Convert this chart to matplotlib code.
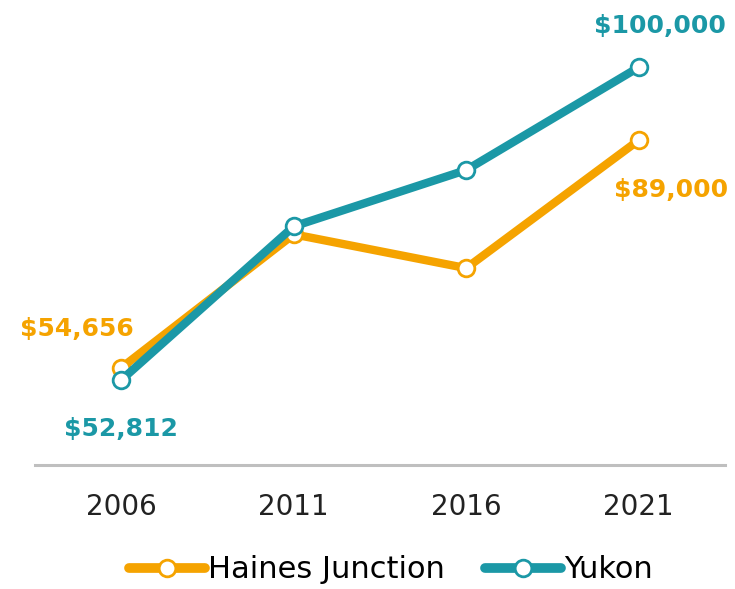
import matplotlib.pyplot as plt

years = ["2006", "2011", "2016", "2021"]
haines = [54656, 74800, 69700, 89000]
yukon = [52812, 76000, 84500, 100000]

orange = "#F5A300"
teal = "#1B98A6"

plt.rcParams['font.family'] = ['DejaVu Sans']

fig = plt.figure(figsize=(7.35, 5.89), dpi=100)
ax = fig.add_axes([35 / 735, 1 - 465 / 589, 690 / 735, 464 / 589])

x = list(range(len(years)))
style = dict(lw=6, marker='o', ms=12, mfc='white', mew=2, solid_capstyle='round')
ax.plot(x, haines, color=orange, label="Haines Junction", **style)
ax.plot(x, yukon, color=teal, label="Yukon", **style)

ax.set_xlim(-0.5, 3.5)
ax.set_ylim(40000, 110000)
ax.set_xticks(x)
ax.set_xticklabels(years, fontsize=20, color="#222222")
ax.tick_params(axis='x', length=0, pad=20)
ax.set_yticks([])
for side in ['top', 'right', 'left']:
    ax.spines[side].set_visible(False)
ax.spines['bottom'].set_color('#BFBFBF')
ax.spines['bottom'].set_linewidth(2.2)

# value labels at the ends
lbl = dict(textcoords='offset points', ha='center', va='center',
           fontsize=18, fontweight='bold')
ax.annotate(f"${haines[0]:,}", (0, haines[0]), xytext=(-32, 28), color=orange, **lbl)
ax.annotate(f"${yukon[0]:,}", (0, yukon[0]), xytext=(0, -35), color=teal, **lbl)
ax.annotate(f"${yukon[-1]:,}", (3, yukon[-1]), xytext=(15, 30), color=teal, **lbl)
ax.annotate(f"${haines[-1]:,}", (3, haines[-1]), xytext=(23, -36), color=orange, **lbl)

leg = fig.legend(loc='center', bbox_to_anchor=(0.532, 1 - 570 / 589), ncol=2, frameon=False,
                 fontsize=22, handlelength=2.5, handletextpad=0.1, columnspacing=1.3,
                 borderpad=0)
for h in leg.legend_handles:
    h.set_linewidth(7)

fig.savefig("out.png", dpi=100)
